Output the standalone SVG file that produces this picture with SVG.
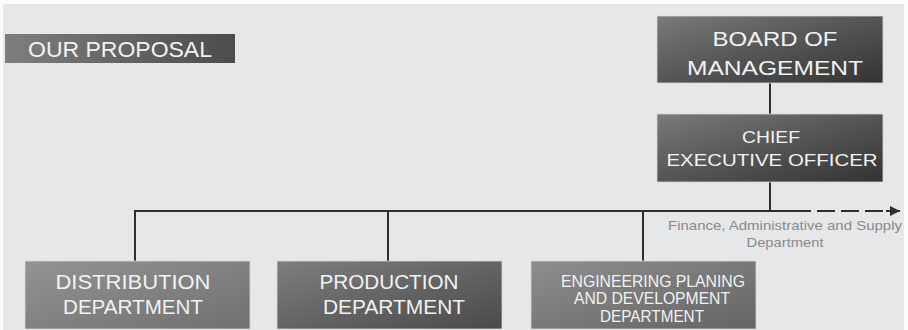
<svg xmlns="http://www.w3.org/2000/svg" width="908" height="330" viewBox="0 0 908 330">
<defs>
<linearGradient id="gDark" x1="0" y1="0" x2="1" y2="1">
<stop offset="0" stop-color="#7a7a7a"/>
<stop offset="0.5" stop-color="#555555"/>
<stop offset="1" stop-color="#333333"/>
</linearGradient>
<linearGradient id="gTitle" x1="0" y1="0" x2="1" y2="0">
<stop offset="0" stop-color="#7e7e7e"/>
<stop offset="1" stop-color="#4c4c4c"/>
</linearGradient>
<linearGradient id="gLight" x1="0" y1="0" x2="1" y2="1">
<stop offset="0" stop-color="#939393"/>
<stop offset="1" stop-color="#707070"/>
</linearGradient>
<linearGradient id="gMid" x1="0" y1="0" x2="1" y2="1">
<stop offset="0" stop-color="#7e7e7e"/>
<stop offset="1" stop-color="#4a4a4a"/>
</linearGradient>
<linearGradient id="gEng" x1="0" y1="0" x2="1" y2="1">
<stop offset="0" stop-color="#8e8e8e"/>
<stop offset="1" stop-color="#646464"/>
</linearGradient>
<marker id="arrow" viewBox="0 0 10 10" refX="10" refY="5" markerWidth="10" markerHeight="10" markerUnits="userSpaceOnUse" orient="auto">
<path d="M0,0 L10,5 L0,10 Z" fill="#2e2e2e"/>
</marker>
</defs>
<style>
.box{stroke:#d8d8d8;stroke-width:0.8}
.t{font-family:"Liberation Sans",Arial,sans-serif;fill:#f2f2f2;text-anchor:middle}
.line{stroke:#2e2e2e;stroke-width:2;fill:none}
.note{font-family:"Liberation Sans",Arial,sans-serif;fill:#8a8a8a;font-size:13px;text-anchor:middle}
</style>
<rect x="0" y="0" width="908" height="330" fill="#fbfbfb"/>
<rect x="3" y="4" width="901" height="326" fill="#e6e7e9"/>

<g id="connectors">
<line class="line" x1="770" y1="83" x2="770" y2="114"/>
<line class="line" x1="770" y1="182" x2="770" y2="211"/>
<polyline class="line" points="135,261 135,211 793,211"/>
<line class="line" x1="388" y1="211" x2="388" y2="261"/>
<line class="line" x1="643" y1="211" x2="643" y2="261"/>
<line class="line" x1="793" y1="211" x2="890" y2="211" stroke-dasharray="18 6"/>
<line class="line" x1="886" y1="211" x2="900" y2="211" marker-end="url(#arrow)"/>
</g>

<g id="title">
<rect x="5" y="34" width="230" height="29" fill="url(#gTitle)"/>
<text class="t" x="120" y="57" font-size="22" textLength="184" lengthAdjust="spacingAndGlyphs">OUR PROPOSAL</text>
</g>

<g id="board">
<rect class="box" x="657" y="16" width="226" height="67" fill="url(#gDark)"/>
<text class="t" x="775" y="46" font-size="21" textLength="125" lengthAdjust="spacingAndGlyphs">BOARD OF</text>
<text class="t" x="775" y="75" font-size="21" textLength="176" lengthAdjust="spacingAndGlyphs">MANAGEMENT</text>
</g>

<g id="ceo">
<rect class="box" x="657" y="114" width="226" height="68" fill="url(#gDark)"/>
<text class="t" x="771" y="143" font-size="17" textLength="58" lengthAdjust="spacingAndGlyphs">CHIEF</text>
<text class="t" x="772" y="166" font-size="17" textLength="211" lengthAdjust="spacingAndGlyphs">EXECUTIVE OFFICER</text>
</g>

<g id="finance-label">
<text class="note" x="785" y="230" textLength="234" lengthAdjust="spacingAndGlyphs">Finance, Administrative and Supply</text>
<text class="note" x="785" y="247" textLength="77" lengthAdjust="spacingAndGlyphs">Department</text>
</g>

<g id="distribution">
<rect class="box" x="25" y="261" width="225" height="68" fill="url(#gLight)"/>
<text class="t" x="133" y="289" font-size="20" textLength="155" lengthAdjust="spacingAndGlyphs">DISTRIBUTION</text>
<text class="t" x="133" y="314" font-size="20" textLength="140" lengthAdjust="spacingAndGlyphs">DEPARTMENT</text>
</g>

<g id="production">
<rect class="box" x="277" y="261" width="225" height="68" fill="url(#gMid)"/>
<text class="t" x="389" y="289" font-size="20" textLength="139" lengthAdjust="spacingAndGlyphs">PRODUCTION</text>
<text class="t" x="394" y="314" font-size="20" textLength="142" lengthAdjust="spacingAndGlyphs">DEPARTMENT</text>
</g>

<g id="engineering">
<rect class="box" x="531" y="261" width="225" height="68" fill="url(#gEng)"/>
<text class="t" x="653" y="287" font-size="16" textLength="184" lengthAdjust="spacingAndGlyphs">ENGINEERING PLANING</text>
<text class="t" x="652" y="304" font-size="16" textLength="156" lengthAdjust="spacingAndGlyphs">AND DEVELOPMENT</text>
<text class="t" x="652" y="322" font-size="16" textLength="104" lengthAdjust="spacingAndGlyphs">DEPARTMENT</text>
</g>
</svg>
